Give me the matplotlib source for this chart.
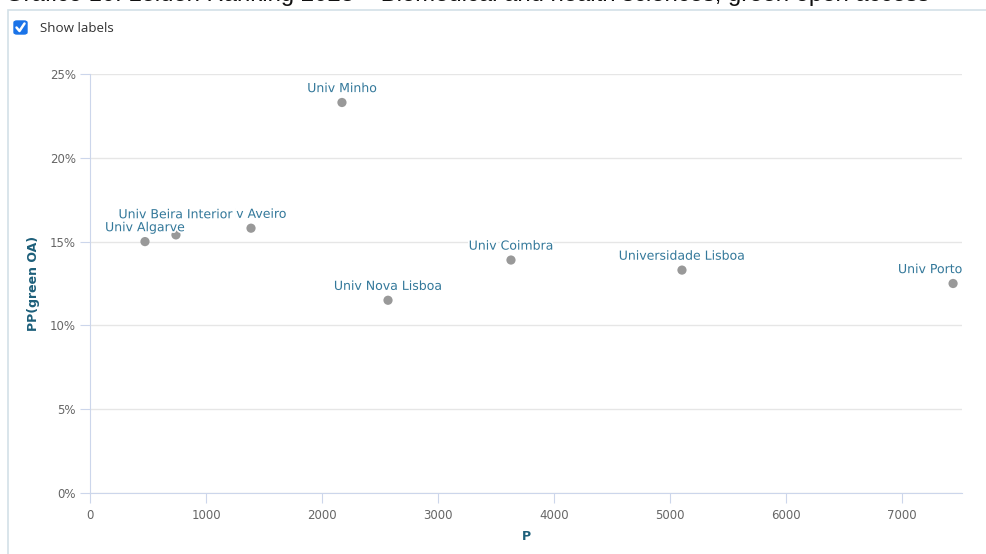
"""Leiden Ranking 2023 scatter: P vs PP(green OA), biomedical and health sciences."""

import matplotlib

matplotlib.use("Agg")
import matplotlib.pyplot as plt
import matplotlib.patheffects as pe
from matplotlib.patches import FancyBboxPatch, Rectangle
from matplotlib.lines import Line2D
from matplotlib.ticker import FuncFormatter

plt.rcParams["font.family"] = ["DejaVu Sans"]

# data
universities = [
    "Univ Minho",
    "Univ Nova Lisboa",
    "Univ Coimbra",
    "Universidade Lisboa",
    "Univ Porto",
    "Univ Aveiro",
    "Univ Beira Interior",
    "Univ Algarve",
]
p_values = [2172, 2569, 3629, 5103, 7440, 1388, 741, 474]
pp_green_oa = [23.3, 11.5, 13.9, 13.3, 12.5, 15.8, 15.4, 15.0]

x_ticks = [0, 1000, 2000, 3000, 4000, 5000, 6000, 7000]
y_ticks = [0, 5, 10, 15, 20, 25]

TITLE = "Gráfico 10: Leiden Ranking 2023 – Biomedical and health sciences, green open access"

# label placement (offset in points, alignment) - Highcharts style nudges
LABEL_OFFSETS = {
    "Univ Beira Interior": (-0.3, 14.5, "center"),
    "Univ Porto": (6.5, 10, "right"),
}
LABEL_ORDER = {"Univ Aveiro": 4, "Univ Beira Interior": 5, "Univ Algarve": 6}

W, H = 986, 554
fig = plt.figure(figsize=(W / 100, H / 100), dpi=100)

# outer frame of the widget
fig.add_artist(Rectangle((8 / W, -0.1), 1.2, (H - 10) / H + 0.1,
                         transform=fig.transFigure, fill=False,
                         edgecolor="#d3e0e8", linewidth=1.2))

# cropped title at the very top
fig.text(5 / W, (H - 1.1) / H, TITLE, fontsize=17.2, color="#111111",
         family=["Liberation Sans", "DejaVu Sans"], va="baseline", ha="left")

# "Show labels" checkbox
fig.add_artist(FancyBboxPatch((14 / W, (H - 34) / H), 13 / W, 13 / H,
                              boxstyle="round,pad=0,rounding_size=0.003",
                              transform=fig.transFigure,
                              facecolor="#1a73e8", edgecolor="#1a73e8"))
fig.add_artist(Line2D([16.5 / W, 19.5 / W, 24.5 / W],
                      [(H - 27.5) / H, (H - 31) / H, (H - 23.5) / H],
                      transform=fig.transFigure, color="white", linewidth=1.8,
                      solid_capstyle="round", solid_joinstyle="round"))
fig.text(40 / W, (H - 28) / H, "Show labels", fontsize=9.6, color="#333333",
         va="center", ha="left", family=["Open Sans", "DejaVu Sans"])

ax = fig.add_axes([90 / W, 61 / H, 872 / W, 419 / H])

ax.scatter(p_values, pp_green_oa, s=44, color="#999999", zorder=3,
           edgecolors="none")

for name, x, y in zip(universities, p_values, pp_green_oa):
    dx, dy, ha = LABEL_OFFSETS.get(name, (0, 10, "center"))
    ax.annotate(name, (x, y), xytext=(dx, dy), textcoords="offset points",
                ha=ha, va="center", fontsize=9, color="#33789a",
                zorder=LABEL_ORDER.get(name, 4),
                bbox=dict(boxstyle="square,pad=0.2", facecolor="white",
                          edgecolor="none") if name == "Univ Beira Interior" else None,
                path_effects=[pe.withStroke(linewidth=2.5, foreground="white")])

ax.set_xlim(0, 7517)
ax.set_ylim(0, 25)
ax.set_xticks(x_ticks)
ax.set_yticks(y_ticks)
ax.yaxis.set_major_formatter(FuncFormatter(lambda v, _: f"{v:.0f}%"))

ax.grid(axis="y", color="#e6e6e6", linewidth=1)
ax.set_axisbelow(True)
for side in ("top", "right"):
    ax.spines[side].set_visible(False)
ax.spines["left"].set_color("#ccd6eb")
ax.spines["bottom"].set_color("#ccd6eb")
ax.spines["bottom"].set_zorder(2.5)

ax.tick_params(axis="x", length=7.2, color="#ccd6eb", labelsize=8.5,
               labelcolor="#666666", pad=4)
ax.tick_params(axis="y", length=7.2, color="#ccd6eb", labelsize=8.5,
               labelcolor="#666666", pad=3)

ax.set_xlabel("P", fontsize=9, fontweight="bold", color="#1d5f7a", labelpad=6)
ax.set_ylabel("PP(green OA)", fontsize=9, fontweight="bold", color="#1d5f7a",
              labelpad=7)

fig.savefig("out.png", dpi=100)
